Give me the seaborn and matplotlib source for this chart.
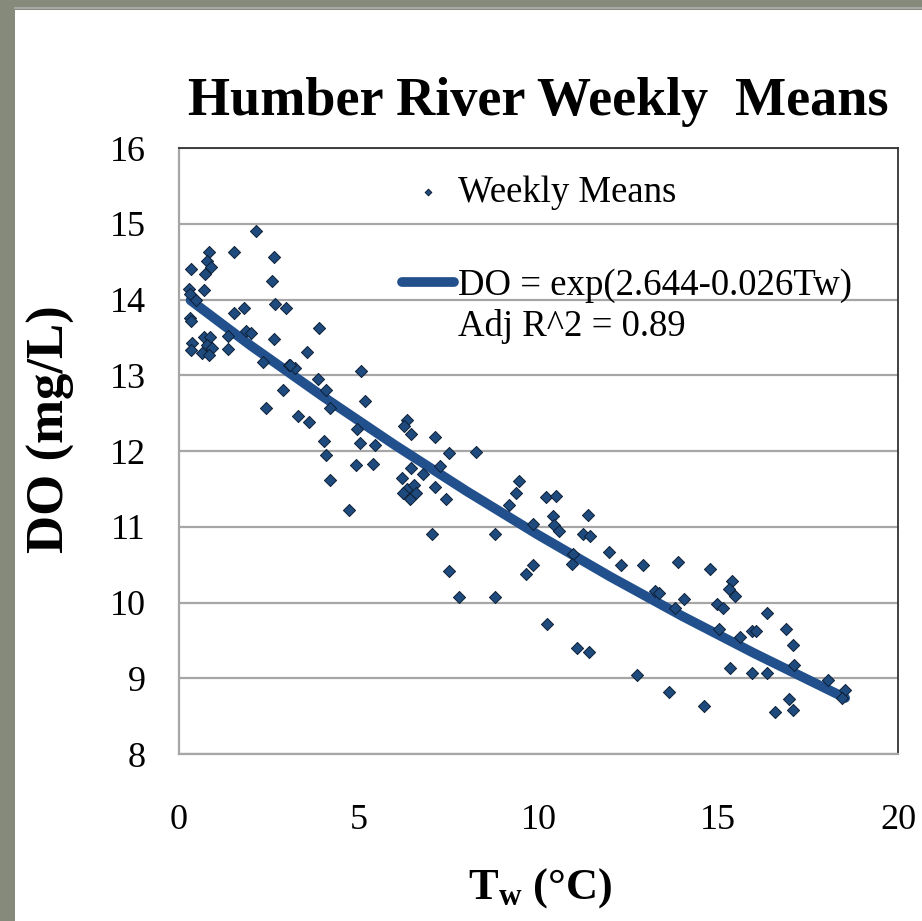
import matplotlib
matplotlib.use("Agg")
import matplotlib.pyplot as plt
from matplotlib.patches import Rectangle
from matplotlib.lines import Line2D
import seaborn as sns
import pandas as pd

# ---- data ----
tw = [2.14, 0.83, 1.52, 2.63, 0.78, 0.34, 0.89, 0.73, 2.59, 0.29, 0.70, 0.31,
      2.68, 2.99, 1.81, 1.52, 0.30, 0.34, 3.90, 1.85, 2.00, 1.37, 2.63, 0.69,
      0.87, 0.36, 0.78, 0.92, 0.64, 0.83, 0.34, 1.37, 3.56, 2.35, 3.05, 3.24,
      5.07, 3.86, 4.10, 2.88, 5.18, 2.43, 4.21, 3.32, 3.62, 6.35, 6.25, 6.45,
      4.96, 7.13, 4.04, 5.03, 5.46, 7.50, 8.26, 4.10, 4.93, 5.41, 6.45, 6.79,
      7.27, 6.20, 7.11, 4.19, 6.34, 6.55, 6.23, 6.43, 6.60, 7.42, 4.74, 9.46,
      9.37, 9.17, 10.21, 10.48, 9.86, 10.39, 10.42, 10.56, 11.37, 11.25, 11.42,
      7.05, 8.78, 11.95, 10.95, 10.93, 12.29, 12.92, 9.86, 9.66, 7.52, 7.80,
      8.78, 10.23, 11.07, 11.41, 12.75, 13.89, 14.77, 15.38, 15.31, 15.47,
      13.24, 13.36, 14.05, 13.80, 14.96, 15.12, 16.35, 15.01, 15.61, 15.93,
      16.05, 16.89, 17.07, 17.11, 15.33, 15.95, 16.35, 18.05, 18.53, 18.43,
      13.64, 14.59, 16.98, 16.58, 17.07, 0.48, 3.10]
do = [14.91, 14.63, 14.63, 14.56, 14.51, 14.40, 14.43, 14.34, 14.24, 14.14, 14.13, 14.07,
      13.94, 13.89, 13.89, 13.82, 13.75, 13.72, 13.63, 13.58, 13.56, 13.52, 13.48, 13.51,
      13.50, 13.42, 13.40, 13.36, 13.29, 13.27, 13.33, 13.34, 13.31, 13.17, 13.13, 13.09,
      13.05, 12.95, 12.80, 12.80, 12.66, 12.57, 12.57, 12.46, 12.38, 12.41, 12.33, 12.22,
      12.29, 12.18, 12.13, 12.11, 12.08, 11.97, 11.99, 11.95, 11.81, 11.83, 11.78, 11.69,
      11.80, 11.64, 11.53, 11.62, 11.50, 11.55, 11.45, 11.37, 11.44, 11.37, 11.22, 11.61,
      11.45, 11.29, 11.39, 11.41, 11.04, 11.14, 11.02, 10.95, 11.16, 10.91, 10.88,
      10.91, 10.91, 10.67, 10.64, 10.51, 10.49, 10.49, 10.49, 10.37, 10.42, 10.07,
      10.07, 9.72, 9.40, 9.35, 9.04, 10.53, 10.44, 10.28, 10.18, 10.09,
      10.15, 10.13, 10.05, 9.93, 9.98, 9.93, 9.86, 9.65, 9.54, 9.63,
      9.63, 9.65, 9.44, 9.17, 9.14, 9.07, 9.07, 8.98, 8.84, 8.74,
      8.82, 8.63, 8.72, 8.56, 8.58, 14.00, 13.14]

fit_tw = [0.32, 2, 4, 6, 8, 10, 12, 14, 16, 18.53]
fit_do = [13.99, 13.39, 12.72, 12.08, 11.47, 10.89, 10.34, 9.82, 9.33, 8.74]

x_ticks = [0, 5, 10, 15, 20]
y_ticks = [8, 9, 10, 11, 12, 13, 14, 15, 16]

title = "Humber River Weekly  Means"
scatter_label = "Weekly Means"
fit_label = "DO = exp(2.644-0.026Tw)"
r2_label = "Adj R^2 = 0.89"

pts = pd.DataFrame({"Tw": tw, "DO": do})
fit = pd.DataFrame({"Tw": fit_tw, "DO": fit_do})

# ---- style ----
sns.set_theme(style="white")
plt.rcParams["font.family"] = ["Liberation Serif", "DejaVu Serif"]
plt.rcParams["mathtext.fontset"] = "custom"
plt.rcParams["mathtext.rm"] = "Liberation Serif"
plt.rcParams["mathtext.bf"] = "Liberation Serif:bold"

W, H = 922, 921
fig = plt.figure(figsize=(W / 100, H / 100), dpi=100)
fig.patch.set_facecolor("#868a7a")
fig.patches.append(Rectangle((15 / W, 0), 1, 1 - 10 / H, transform=fig.transFigure,
                             facecolor="white", edgecolor="none", zorder=-10))
fig.add_artist(Line2D([15 / W, 1], [1 - 8.5 / H, 1 - 8.5 / H], transform=fig.transFigure,
                      color="#a8a8a8", lw=1.5, zorder=-5))

ax_l, ax_r, ax_t, ax_b = 179, 898, 148, 754
ax = fig.add_axes([ax_l / W, 1 - ax_b / H, (ax_r - ax_l) / W, (ax_b - ax_t) / H])
ax.set_facecolor("white")

grid_c = "#a6a6a6"
navy = "#1f4a7e"

sns.lineplot(data=fit, x="Tw", y="DO", ax=ax, color="#21508c", lw=7,
             solid_capstyle="round", zorder=3, label=fit_label)
sns.scatterplot(data=pts, x="Tw", y="DO", ax=ax, marker="D", s=38, color=navy,
                edgecolor="#0d1f36", linewidth=0.7, zorder=4, label=scatter_label)

ax.set_xlim(0, 20)
ax.set_ylim(8, 16)
ax.set_xticks(x_ticks)
ax.set_yticks(y_ticks)
ax.yaxis.grid(True, color=grid_c, lw=1.6)
ax.xaxis.grid(False)
ax.set_axisbelow(True)

for s in ["left", "bottom"]:
    ax.spines[s].set_color(grid_c)
    ax.spines[s].set_linewidth(1.6)
for s in ["top", "right"]:
    ax.spines[s].set_color("#333333")
    ax.spines[s].set_linewidth(1.3)

ax.tick_params(axis="both", which="major", direction="out", length=9, width=1.3,
               color=grid_c, labelsize=26, labelcolor="black")
ax.tick_params(axis="y", pad=15)
ax.tick_params(axis="x", pad=27)

fig.suptitle(title, x=538 / W, y=1 - 102 / H, va="center", fontsize=39,
             fontweight="bold", color="black")

ax.set_ylabel("DO (mg/L)", fontsize=38, fontweight="bold", color="black")
ax.yaxis.set_label_coords((75 - ax_l) / (ax_r - ax_l), (ax_b - 429) / (ax_b - ax_t))
ax.set_xlabel(r"$\mathbf{T_w}$ (°C)", fontsize=32, fontweight="bold", color="black")
ax.xaxis.set_label_coords((540 - ax_l) / (ax_r - ax_l), (ax_b - 866) / (ax_b - ax_t))

# legend
leg_fs = 26.5
handles, labels = ax.get_legend_handles_labels()
order = [labels.index(scatter_label), labels.index(fit_label)]
leg = ax.legend([handles[i] for i in order], [labels[i] for i in order],
                loc="upper left",
                bbox_to_anchor=((384 - ax_l) / (ax_r - ax_l), (ax_b - 157) / (ax_b - ax_t)),
                frameon=False, fontsize=leg_fs, handlelength=1.4, handletextpad=0.1,
                labelspacing=1.58, borderpad=0, markerscale=0.55)
for t in leg.get_texts():
    t.set_color("black")
ax.text((458 - ax_l) / (ax_r - ax_l), (ax_b - 326) / (ax_b - ax_t), r2_label,
        transform=ax.transAxes, fontsize=leg_fs, va="center", ha="left", color="black")

fig.savefig("out.png", dpi=100, facecolor=fig.get_facecolor())
